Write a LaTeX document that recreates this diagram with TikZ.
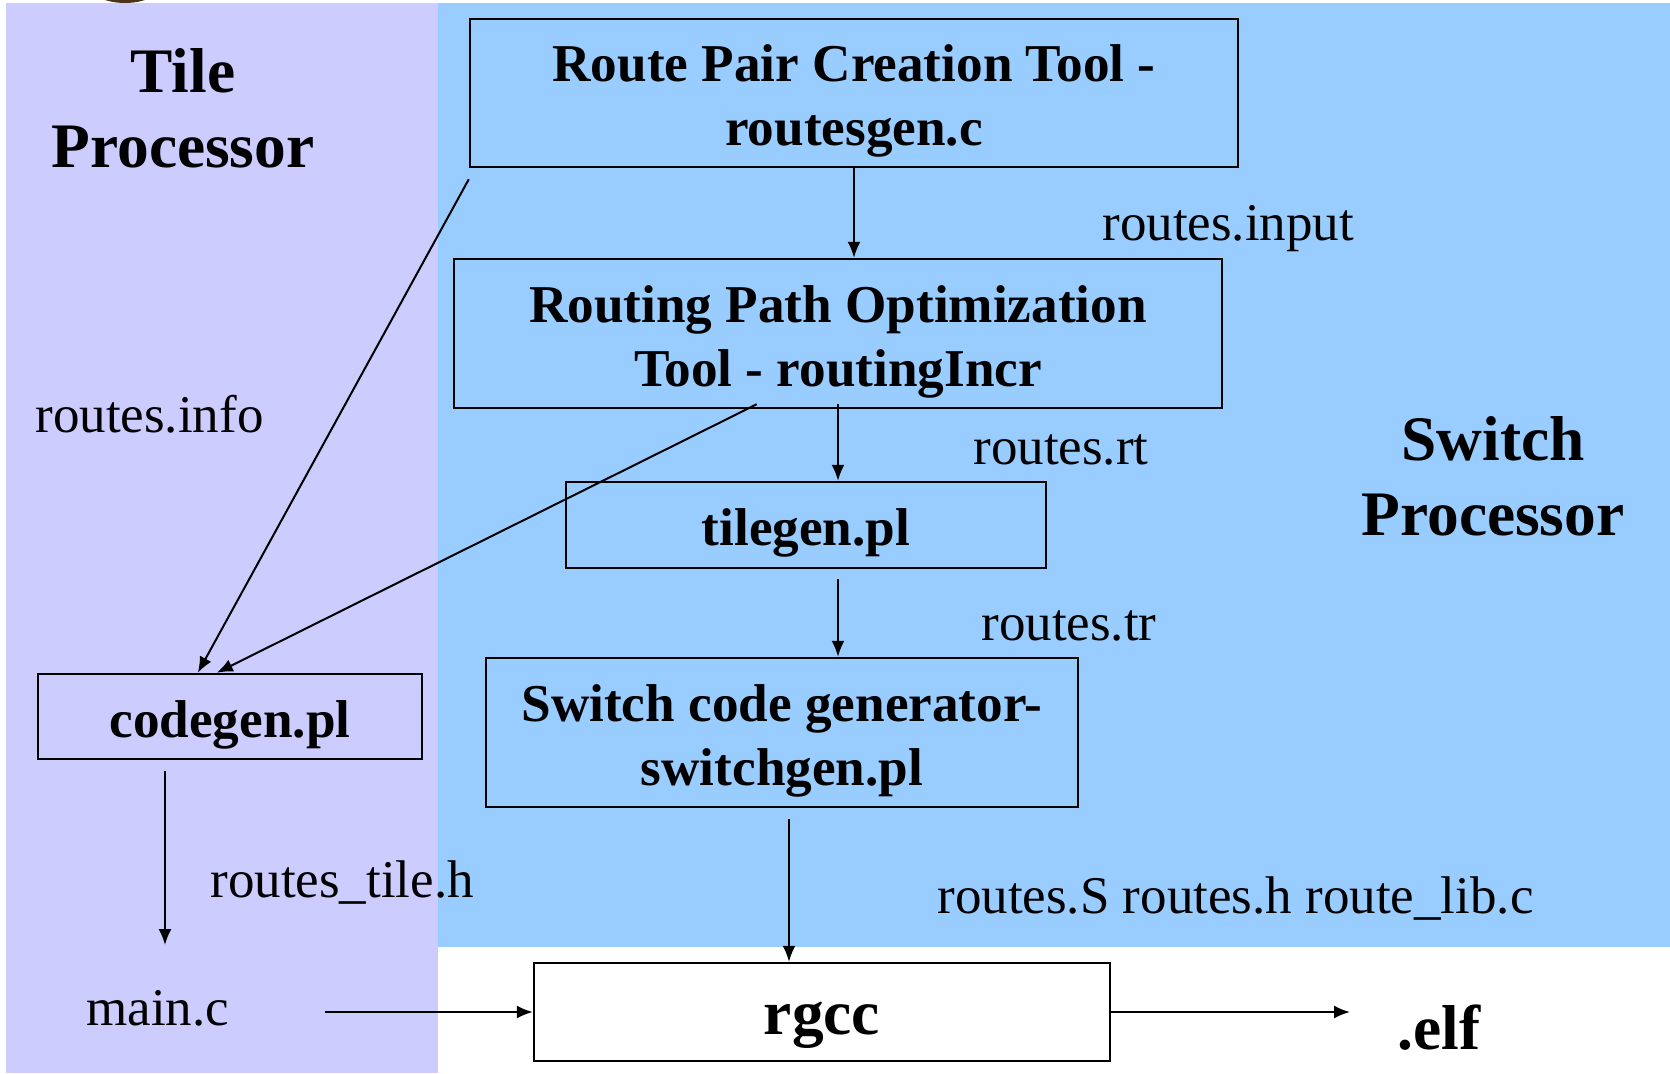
\documentclass[tikz,border=0pt]{standalone}
\usepackage{fontspec}
\setmainfont{Liberation Serif}
\usetikzlibrary{positioning,calc,arrows.meta}
\definecolor{tilebg}{HTML}{CCCCFF}
\definecolor{switchbg}{HTML}{99CCFF}
\newcommand{\boxstrut}[1][1em]{\rule{0pt}{#1}}
\tikzset{block/.style={draw,line width=1.2pt,inner sep=0pt,align=center,font=\fontsize{26.6}{32}\selectfont\bfseries},
         line/.style={line width=1pt,-{Latex[length=8pt,width=6.5pt]}},
         lbl/.style={inner sep=0pt,anchor=base west,font=\fontsize{26.5}{32}\selectfont},
         title/.style={inner sep=0pt,align=center,font=\fontsize{31.7}{37.5}\selectfont\bfseries}
}

\begin{document}
\begin{tikzpicture}[x=0.5pt,y=-0.5pt]
\useasboundingbox (0,0) rectangle (1670,1073);
\fill[tilebg] (6,3) rectangle (438,1073);
\fill[switchbg] (438,3) rectangle (1670,947);
% logo stub cut off at the top
\fill[brown!40!black] (125,-22) ellipse [x radius=42, y radius=25];

\node[title] (tileproc) at (183,108) {Tile\\Processor};
\node[title] (switchproc) at (1493,476) {Switch\\Processor};

\node[block,minimum width=384pt,minimum height=74pt] (pairtool) at (854,93) {\boxstrut Route Pair Creation Tool -\\routesgen.c};
\node[block,minimum width=384pt,minimum height=74.5pt] (pathtool) at (838,333.5) {\boxstrut Routing Path Optimization\\Tool - routingIncr};
\node[block,minimum width=240pt,minimum height=43pt] (tilegen) at (806,525) {\boxstrut tilegen.pl};
\node[block,minimum width=296pt,minimum height=74.5pt] (switchgen) at (782,732.5) {\boxstrut Switch code generator-\\switchgen.pl};
\node[block,minimum width=192pt,minimum height=42.5pt] (codegen) at (230,716.5) {\boxstrut codegen.pl};
\node[block,fill=white,minimum width=288pt,minimum height=49pt,font=\fontsize{31.7}{38}\selectfont\bfseries] (rgcc) at (822,1012) {\boxstrut[29pt]rgcc};

\node[lbl] (info) at (35,432) {routes.info};
\node[lbl] (input) at (1102,240) {routes.input};
\node[lbl] (rt) at (973,464) {routes.rt};
\node[lbl] (tr) at (981,640) {routes.tr};
\node[lbl] (tileh) at (210,897) {routes\_tile.h};
\node[lbl] (swfiles) at (937,913) {routes.S routes.h route\_lib.c};
\node[lbl] (mainc) at (86,1025) {main.c};
\node[lbl,font=\fontsize{31.7}{38}\selectfont\bfseries] (elf) at (1397,1049) {.elf};

% connector ends
\coordinate (pairout) at ($(pairtool.south west)+(0,11)$);
\coordinate (pathout) at ($(pathtool.south west)+(304,-5)$);
\coordinate (pathdown) at ($(pathtool.south)+(0,-5)$);
\coordinate (codegenL) at ($(codegen.north west)+(161,0)$);
\coordinate (codegenR) at ($(codegen.north west)+(180,0)$);
\coordinate (tiledown) at ($(tilegen.south)+(32,10)$);
\coordinate (swdown) at ($(switchgen.south)+(7,11)$);
\coordinate (cgdown) at ($(codegen.south)+(-65,11)$);
\coordinate (cgend) at (165,945);
\coordinate (mainout) at (325,1012);
\coordinate (elfin) at (1350,1012);

\draw[line] (pairtool.south) -- (pairtool.south |- pathtool.north);
\draw[line] (pairout) -- (codegenL);
\draw[line] (pathout) -- (codegenR);
\draw[line] (pathdown) -- (pathdown |- tilegen.north);
\draw[line] (tiledown) -- (tiledown |- switchgen.north);
\draw[line] (swdown) -- (swdown |- rgcc.north);
\draw[line] (cgdown) -- (cgend);
\draw[line] (mainout) -- (rgcc.west);
\draw[line] (rgcc.east) -- (elfin);

\end{tikzpicture}
\end{document}
